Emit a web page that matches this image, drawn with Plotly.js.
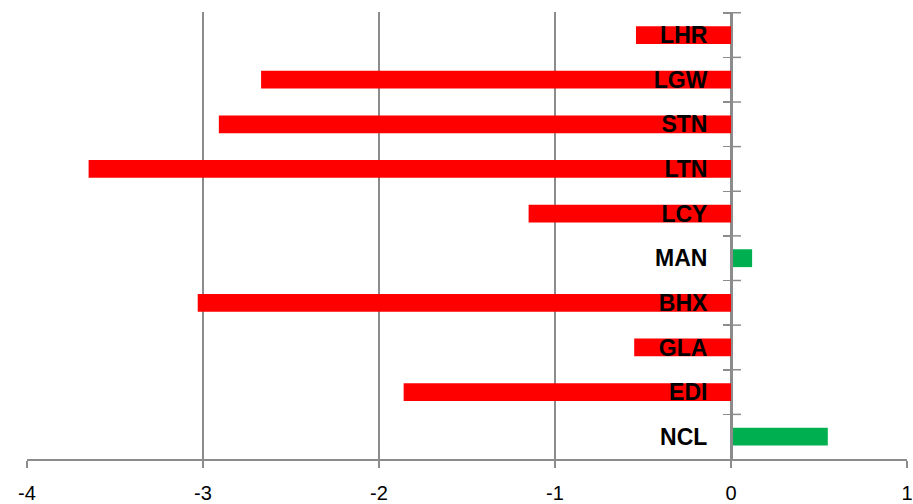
<!DOCTYPE html>
<html>
<head>
<meta charset="utf-8">
<script src="https://cdn.plot.ly/plotly-3.0.1.min.js"></script>
<style>
  html, body { margin: 0; padding: 0; background: #fff; }
  #chart { width: 913px; height: 504px; }
</style>
</head>
<body>
<div id="chart"></div>
<script>
// Airports, listed top to bottom
const airports = ['LHR', 'LGW', 'STN', 'LTN', 'LCY', 'MAN', 'BHX', 'GLA', 'EDI', 'NCL'];
// Change per airport
const changes = [-0.54, -2.67, -2.91, -3.65, -1.15, 0.12, -3.03, -0.55, -1.86, 0.55];
// Value axis ticks
const xTicks = [-4, -3, -2, -1, 0, 1];

const RED = '#FF0000';
const GREEN = '#00B050';
const GRID = '#8c8c8c';

const barColors = changes.map(v => (v < 0 ? RED : GREEN));

const traces = [{
  type: 'bar',
  orientation: 'h',
  y: airports,
  x: changes,
  marker: { color: barColors, line: { width: 0 } },
  width: 0.4,
  hoverinfo: 'x+y'
}];

// Right-hand halves of the category tick marks, so they cross the axis line
const crossTicks = airports.map((_, i) => ({
  type: 'line',
  xref: 'x',
  yref: 'y',
  xsizemode: 'pixel',
  xanchor: 0,
  x0: 0,
  x1: 10,
  y0: i - 0.5,
  y1: i - 0.5,
  line: { color: GRID, width: 1.5 },
  layer: 'above'
}));

const layout = {
  width: 913,
  height: 504,
  margin: { l: 27, r: 6, t: 12, b: 45 },
  paper_bgcolor: '#ffffff',
  plot_bgcolor: '#ffffff',
  showlegend: false,
  shapes: crossTicks,
  xaxis: {
    range: [-4, 1],
    domain: [0, 1],
    tickmode: 'array',
    tickvals: xTicks,
    ticktext: xTicks.map(String),
    showgrid: true,
    gridcolor: GRID,
    gridwidth: 1.5,
    zeroline: false,
    showline: true,
    linecolor: GRID,
    linewidth: 1.5,
    ticks: 'outside',
    ticklen: 7,
    tickwidth: 1.5,
    tickcolor: GRID,
    ticklabelstandoff: 8,
    tickfont: { family: 'Liberation Sans, Arial, sans-serif', size: 20, color: '#000' },
    fixedrange: true
  },
  yaxis: {
    type: 'category',
    categoryorder: 'array',
    categoryarray: airports,
    autorange: 'reversed',
    anchor: 'free',
    position: 0.8,
    side: 'left',
    showgrid: false,
    zeroline: false,
    showline: true,
    linecolor: GRID,
    linewidth: 1.5,
    ticks: 'outside',
    tickson: 'boundaries',
    ticklen: 8,
    tickwidth: 1.5,
    tickcolor: GRID,
    ticklabelstandoff: 19,
    tickfont: { family: 'Liberation Sans, Arial, sans-serif', size: 23, color: '#000', weight: 'bold' },
    fixedrange: true
  }
};

Plotly.newPlot('chart', traces, layout, { displayModeBar: false, staticPlot: true });
</script>
</body>
</html>
